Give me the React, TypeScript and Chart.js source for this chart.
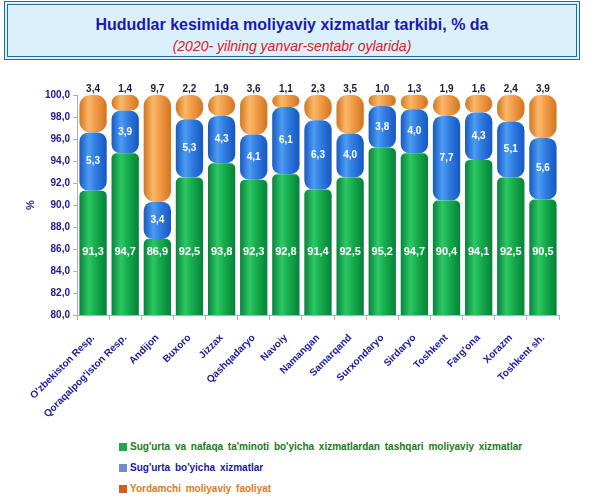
import React, { useEffect, useRef } from "react";
import { Chart, registerables } from "chart.js";

Chart.register(...registerables);

const categories = [
  "O'zbekiston Resp.",
  "Qoraqalpog'iston Resp.",
  "Andijon",
  "Buxoro",
  "Jizzax",
  "Qashqadaryo",
  "Navoiy",
  "Namangan",
  "Samarqand",
  "Surxondaryo",
  "Sirdaryo",
  "Toshkent",
  "Farg'ona",
  "Xorazm",
  "Toshkent sh.",
];

const otherFinancial = [91.3, 94.7, 86.9, 92.5, 93.8, 92.3, 92.8, 91.4, 92.5, 95.2, 94.7, 90.4, 94.1, 92.5, 90.5];
const insurance = [5.3, 3.9, 3.4, 5.3, 4.3, 4.1, 6.1, 6.3, 4.0, 3.8, 4.0, 7.7, 4.3, 5.1, 5.6];
const auxiliary = [3.4, 1.4, 9.7, 2.2, 1.9, 3.6, 1.1, 2.3, 3.5, 1.0, 1.3, 1.9, 1.6, 2.4, 3.9];

const seriesNames = [
  "Sug'urta va nafaqa ta'minoti bo'yicha xizmatlardan tashqari moliyaviy xizmatlar",
  "Sug'urta bo'yicha xizmatlar",
  "Yordamchi moliyaviy faoliyat",
];

const FONT = "'Liberation Sans', Arial, sans-serif";

const fmt = (v: number) => v.toFixed(1).replace(".", ",");

const radius = (r: number) => ({ topLeft: r, topRight: r, bottomLeft: r, bottomRight: r });

function makeGradient(dark: string, light: string, base: string) {
  return (ctx: any) => {
    const chart = ctx.chart;
    if (!chart.chartArea || !chart.scales || !chart.scales.x) return base;
    const x = chart.scales.x.getPixelForValue(ctx.dataIndex);
    const half = 14;
    const g = chart.ctx.createLinearGradient(x - half, 0, x + half, 0);
    g.addColorStop(0, dark);
    g.addColorStop(0.35, light);
    g.addColorStop(0.6, base);
    g.addColorStop(1, dark);
    return g;
  };
}

const labelPlugin = {
  id: "segLabels",
  afterDatasetsDraw(chart: any) {
    const ctx = chart.ctx;
    const y = chart.scales.y;
    ctx.save();
    ctx.textAlign = "center";
    ctx.textBaseline = "middle";
    chart.data.datasets.forEach((ds: any, di: number) => {
      const meta = chart.getDatasetMeta(di);
      meta.data.forEach((el: any, i: number) => {
        const v = ds.data[i] as number;
        const t = fmt(v);
        if (di === 0) {
          ctx.font = `bold 11px ${FONT}`;
          ctx.fillStyle = "#ffffff";
          ctx.fillText(t, el.x, y.getPixelForValue(85.7));
        } else if (di === 1) {
          ctx.font = `bold 10px ${FONT}`;
          ctx.fillStyle = "#ffffff";
          ctx.fillText(t, el.x, (el.y + el.base) / 2);
        } else {
          ctx.font = `bold 10px ${FONT}`;
          ctx.fillStyle = "#1a1a3a";
          ctx.fillText(t, el.x, y.getPixelForValue(100) - 6);
        }
      });
    });
    ctx.restore();
  },
};

export default function App() {
  const ref = useRef<HTMLCanvasElement | null>(null);

  useEffect(() => {
    if (!ref.current) return;
    const chart = new Chart(ref.current, {
      type: "bar",
      data: {
        labels: categories,
        datasets: [
          {
            label: seriesNames[0],
            data: otherFinancial,
            backgroundColor: makeGradient("#07803a", "#2cc864", "#16ab4c"),
            borderRadius: radius(5),
            borderSkipped: false,
          },
          {
            label: seriesNames[1],
            data: insurance,
            backgroundColor: makeGradient("#1656c0", "#4c9cf2", "#2f7be0"),
            borderRadius: radius(9),
            borderSkipped: false,
          },
          {
            label: seriesNames[2],
            data: auxiliary,
            backgroundColor: makeGradient("#d0741f", "#fbb868", "#f09a48"),
            borderRadius: radius(11),
            borderSkipped: false,
          },
        ],
      },
      options: {
        animation: false,
        responsive: false,
        maintainAspectRatio: false,
        layout: { padding: { top: 35, right: 41, left: 20, bottom: 0 } },
        datasets: {
          bar: { barPercentage: 0.85, categoryPercentage: 1 },
        },
        plugins: {
          legend: { display: false },
          tooltip: { enabled: false },
        },
        scales: {
          x: {
            stacked: true,
            grid: {
              offset: true,
              drawOnChartArea: false,
              drawTicks: true,
              tickLength: 5,
              color: "#b0b0b0",
            },
            border: { display: true, color: "#b0b0b0" },
            ticks: {
              autoSkip: false,
              minRotation: 45,
              maxRotation: 45,
              padding: 12,
              color: "#1a1aa0",
              font: { family: FONT, size: 10, weight: "bold" },
            },
            afterFit: (scale: any) => {
              scale.height = 120;
            },
          },
          y: {
            stacked: true,
            min: 80,
            max: 100,
            ticks: {
              stepSize: 2,
              color: "#1a1a8c",
              font: { family: FONT, size: 10, weight: "bold" },
              callback: (v: any) => fmt(Number(v)),
            },
            grid: {
              drawOnChartArea: false,
              drawTicks: true,
              tickLength: 4,
              color: "#b0b0b0",
            },
            border: { display: true, color: "#b0b0b0" },
            title: {
              display: true,
              text: "%",
              color: "#1a1a8c",
              font: { family: FONT, size: 11, weight: "bold" },
            },
            afterFit: (scale: any) => {
              scale.width = 57;
            },
          },
        },
      },
      plugins: [labelPlugin],
    });
    return () => chart.destroy();
  }, []);

  const legendColors = [
    { box: "#1aa84a", text: "#1a7a20" },
    { box: "#6a8fc8", text: "#1a1aa0" },
    { box: "#d0601e", text: "#e07a20" },
  ];

  return (
    <div
      style={{
        position: "absolute",
        left: 0,
        top: 0,
        width: 600,
        height: 500,
        background: "#ffffff",
        fontFamily: FONT,
        overflow: "hidden",
      }}
    >
      <div
        style={{
          position: "absolute",
          left: 4,
          top: 1,
          width: 576,
          height: 59,
          boxSizing: "border-box",
          border: "4px double #1f6ea0",
          background: "#dcf0fc",
          textAlign: "center",
        }}
      >
        <div
          style={{
            position: "absolute",
            left: 0,
            right: 0,
            top: 11,
            fontSize: 16,
            fontWeight: "bold",
            color: "#1a1aaa",
            lineHeight: "18px",
          }}
        >
          Hududlar kesimida moliyaviy xizmatlar tarkibi, % da
        </div>
        <div
          style={{
            position: "absolute",
            left: 0,
            right: 0,
            top: 33,
            fontSize: 14,
            fontStyle: "italic",
            color: "#d42020",
            lineHeight: "16px",
          }}
        >
          (2020- yilning yanvar-sentabr oylarida)
        </div>
      </div>
      <canvas
        ref={ref}
        width={600}
        height={375}
        style={{ position: "absolute", left: 0, top: 60, width: 600, height: 375 }}
      />
      <div style={{ position: "absolute", left: 119, top: 436 }}>
        {seriesNames.map((n, i) => (
          <div
            key={n}
            style={{
              display: "flex",
              alignItems: "center",
              height: 21,
              fontSize: 10,
              fontWeight: "bold",
              color: legendColors[i].text,
              wordSpacing: 2,
              whiteSpace: "nowrap",
            }}
          >
            <span
              style={{
                display: "inline-block",
                width: 8,
                height: 8,
                background: legendColors[i].box,
                marginRight: 3,
              }}
            />
            <span>{n}</span>
          </div>
        ))}
      </div>
    </div>
  );
}
